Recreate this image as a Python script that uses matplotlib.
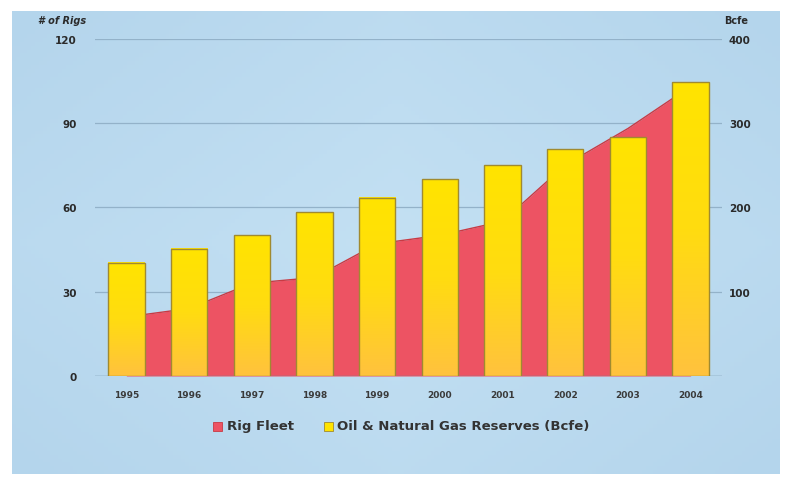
import numpy as np
import matplotlib
matplotlib.use("Agg")
import matplotlib.pyplot as plt
from matplotlib.colors import LinearSegmentedColormap
from matplotlib.patches import Rectangle

years = ["1995", "1996", "1997", "1998", "1999", "2000", "2001", "2002", "2003", "2004"]
rig_fleet = [21, 24, 33, 35, 47, 50, 55, 75, 88, 103]
reserves_bcfe = [134, 151, 167, 194, 211, 233, 250, 269, 283, 348]
left_ticks = [0, 30, 60, 90, 120]
right_ticks = [100, 200, 300, 400]

W, H = 786, 485
fig = plt.figure(figsize=(W / 100, H / 100), dpi=100)
fig.patch.set_facecolor("white")

# background panel with subtle gradient
bg = fig.add_axes([12 / W, 1 - 475 / H, (780 - 12) / W, (475 - 12) / H])
bg.set_axis_off()
gx = np.linspace(0, 1, 200)
gy = np.linspace(0, 1, 120)
GX, GY = np.meshgrid(gx, gy)
val = 1 - 0.5 * np.abs(GX - 0.5) - 0.4 * np.abs(GY - 0.5)
bgcmap = LinearSegmentedColormap.from_list("bg", ["#B4D5EC", "#C3E0F3"])
bg.imshow(val, cmap=bgcmap, aspect="auto", extent=[0, 1, 0, 1], origin="lower")
bg.set_xlim(0, 1)
bg.set_ylim(0, 1)

# main axes
x0, x1 = 95, 722
y0, y1 = 39.5, 377
ax = fig.add_axes([x0 / W, 1 - y1 / H, (x1 - x0) / W, (y1 - y0) / H])
ax.set_facecolor("none")
ax2 = ax.twinx()
ax2.set_facecolor("none")

n = len(years)
xs = np.arange(n)
ax.set_xlim(-0.5, n - 0.5)
ax.set_ylim(0, 120)
ax2.set_ylim(0, 400)

# gridlines
for t in left_ticks[1:]:
    ax.axhline(t, color="#93B2C9", lw=0.9, zorder=0)

# red area (rig fleet)
ax.fill_between(xs, 0, rig_fleet, color="#ED5363", zorder=1, lw=0)
ax.plot(xs, rig_fleet, color="#C83A44", lw=1.0, zorder=1.5)

# gradient bars on ax2 (reserves)
barcmap = LinearSegmentedColormap.from_list("bar", ["#FFC23E", "#FFDC10", "#FFE400"])
grad = np.linspace(0, 1, 256).reshape(-1, 1)
bw = 0.58
ax2.set_xlim(-0.5, n - 0.5)
for i, v in enumerate(reserves_bcfe):
    ax2.imshow(grad, cmap=barcmap, aspect="auto", origin="lower",
               extent=[i - bw / 2, i + bw / 2, 0, v], zorder=3)
    ax2.add_patch(Rectangle((i - bw / 2, 0), bw, v, fill=False,
                            edgecolor="#A08A30", lw=1.0, zorder=4))
ax2.set_xlim(-0.5, n - 0.5)
ax2.set_ylim(0, 400)
ax.set_zorder(1)
ax2.set_zorder(2)

# baseline
ax.axhline(0, color="#6A8AA0", lw=1.0, zorder=5)

for a in (ax, ax2):
    for s in a.spines.values():
        s.set_visible(False)

tick_kw = dict(fontsize=7.5, fontweight="bold", color="#2A2A2A")
ax.set_yticks(left_ticks)
ax.set_yticklabels([str(t) for t in left_ticks], **tick_kw)
ax.tick_params(axis="y", length=0, pad=13)
ax2.set_yticks(right_ticks)
ax2.set_yticklabels([str(t) for t in right_ticks], **tick_kw)
ax2.tick_params(axis="y", length=0, pad=5)
ax.set_xticks(xs)
ax.set_xticklabels(years, fontsize=6.5, fontweight="bold", color="#3A3A3A")
ax.tick_params(axis="x", length=0, pad=10)
ax2.tick_params(axis="x", length=0, labelbottom=False)

fig.text(38 / W, 1 - 21 / H, "# of Rigs", fontsize=7, fontweight="bold",
         fontstyle="italic", color="#2A2A2A", va="center", ha="left")
fig.text(724 / W, 1 - 21 / H, "Bcfe", fontsize=7, fontweight="bold",
         color="#2A2A2A", va="center", ha="left")

# legend
ly = 1 - 427 / H
fig.patches.append(Rectangle((213 / W, ly - 4.5 / H), 9 / W, 9 / H,
                             transform=fig.transFigure, facecolor="#ED5363",
                             edgecolor="#C83A44", lw=0.6))
fig.text(227 / W, ly, "Rig Fleet", fontsize=9.5, fontweight="bold",
         color="#333333", va="center", ha="left")
fig.patches.append(Rectangle((324 / W, ly - 4.5 / H), 9 / W, 9 / H,
                             transform=fig.transFigure, facecolor="#FFE400",
                             edgecolor="#A08A30", lw=0.6))
fig.text(337 / W, ly, "Oil & Natural Gas Reserves (Bcfe)", fontsize=9.5,
         fontweight="bold", color="#333333", va="center", ha="left")

fig.savefig("out.png", dpi=100, facecolor="white")
